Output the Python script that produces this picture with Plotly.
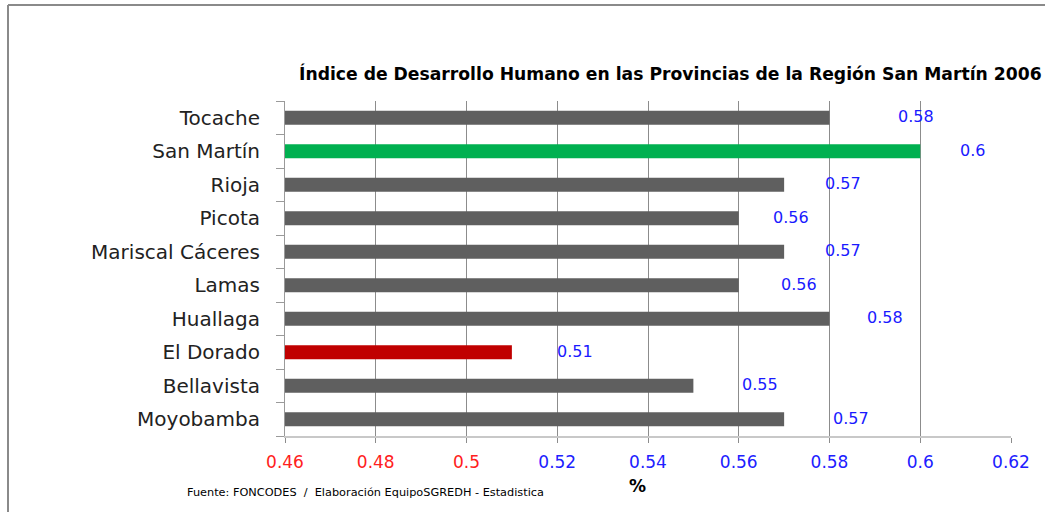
import plotly.graph_objects as go

provincias = ["Moyobamba", "Bellavista", "El Dorado", "Huallaga", "Lamas",
              "Mariscal Cáceres", "Picota", "Rioja", "San Martín", "Tocache"]
idh = [0.57, 0.55, 0.51, 0.58, 0.56, 0.57, 0.56, 0.57, 0.60, 0.58]
label_text = ["0.57", "0.55", "0.51", "0.58", "0.56", "0.57", "0.56", "0.57", "0.6", "0.58"]
tick_vals = [0.46, 0.48, 0.50, 0.52, 0.54, 0.56, 0.58, 0.60, 0.62]
tick_text = ["0.46", "0.48", "0.5", "0.52", "0.54", "0.56", "0.58", "0.6", "0.62"]

# styles
tick_colors = ["#FF2020"] * 3 + ["#2020FF"] * 6
bar_colors = ["#5F5F5F"] * 10
bar_colors[2] = "#C00000"
bar_colors[8] = "#00B050"
label_shift = [67, 67, 63, 55, 60, 59, 52, 59, 52, 86]

L, R, T, B = 285, 1011, 101, 436
PW, PH = R - L, B - T


def px(x):
    return (x - L) / PW


def py(y):
    return (B - y) / PH


fig = go.Figure()
fig.add_trace(go.Bar(
    y=provincias, x=idh, orientation="h",
    marker=dict(color=bar_colors, line=dict(width=0)),
    width=0.42, hoverinfo="skip",
))

for p, v, t, s in zip(provincias, idh, label_text, label_shift):
    fig.add_annotation(x=v, y=p, text=t, showarrow=False, xshift=s, yshift=1,
                       font=dict(family="DejaVu Sans", size=16, color="#1A1AFF"))

fig.update_layout(
    width=1045, height=512,
    margin=dict(l=L, r=1045 - R, t=T, b=512 - B, autoexpand=False),
    paper_bgcolor="white", plot_bgcolor="white",
    showlegend=False,
    xaxis=dict(range=[0.46, 0.62], tickvals=tick_vals,
               ticktext=[f'<span style="color:{c}">{t}</span>' for t, c in zip(tick_text, tick_colors)],
               tickfont=dict(family="DejaVu Sans", size=17),
               showgrid=True, gridcolor="#8C8C8C", gridwidth=1,
               ticks="outside", ticklen=5, tickcolor="#8C8C8C",
               showline=True, linecolor="#C8C8C8", linewidth=2, zeroline=False,
               ticklabelstandoff=5),
    yaxis=dict(type="category", categoryorder="array", categoryarray=provincias,
               tickfont=dict(family="DejaVu Sans", size=20, color="#222222"),
               showline=True, linecolor="#9A9A9A", linewidth=1,
               ticks="outside", ticklen=8, tickcolor="#9A9A9A", tickson="boundaries",
               ticklabelstandoff=20, showgrid=False),
)

fig.add_annotation(xref="paper", yref="paper", x=px(297), y=py(74),
                   xanchor="left", yanchor="middle", showarrow=False,
                   text="<b>Índice de Desarrollo Humano en las Provincias de la Región San Martín 2006</b>",
                   font=dict(family="DejaVu Sans", size=17.2, color="black"))

fig.add_annotation(xref="paper", yref="paper", x=px(637), y=py(486),
                   xanchor="center", yanchor="middle", showarrow=False,
                   text="<b>%</b>", font=dict(family="DejaVu Sans", size=17, color="black"))

fig.add_annotation(xref="paper", yref="paper", x=px(185), y=py(492),
                   xanchor="left", yanchor="middle", showarrow=False,
                   text="Fuente: FONCODES  /  Elaboración EquipoSGREDH - Estadistica",
                   font=dict(family="DejaVu Sans", size=11.3, color="black"))

# outer frame
fig.add_shape(type="line", xref="paper", yref="paper", x0=px(8), x1=px(1045),
              y0=py(5), y1=py(5), line=dict(color="#8A8A8A", width=2))
fig.add_shape(type="line", xref="paper", yref="paper", x0=px(8), x1=px(8),
              y0=py(5), y1=py(512), line=dict(color="#8A8A8A", width=2))

fig.write_html("out.html", config={"displayModeBar": False},
               post_script="document.body.style.margin='0px';")
